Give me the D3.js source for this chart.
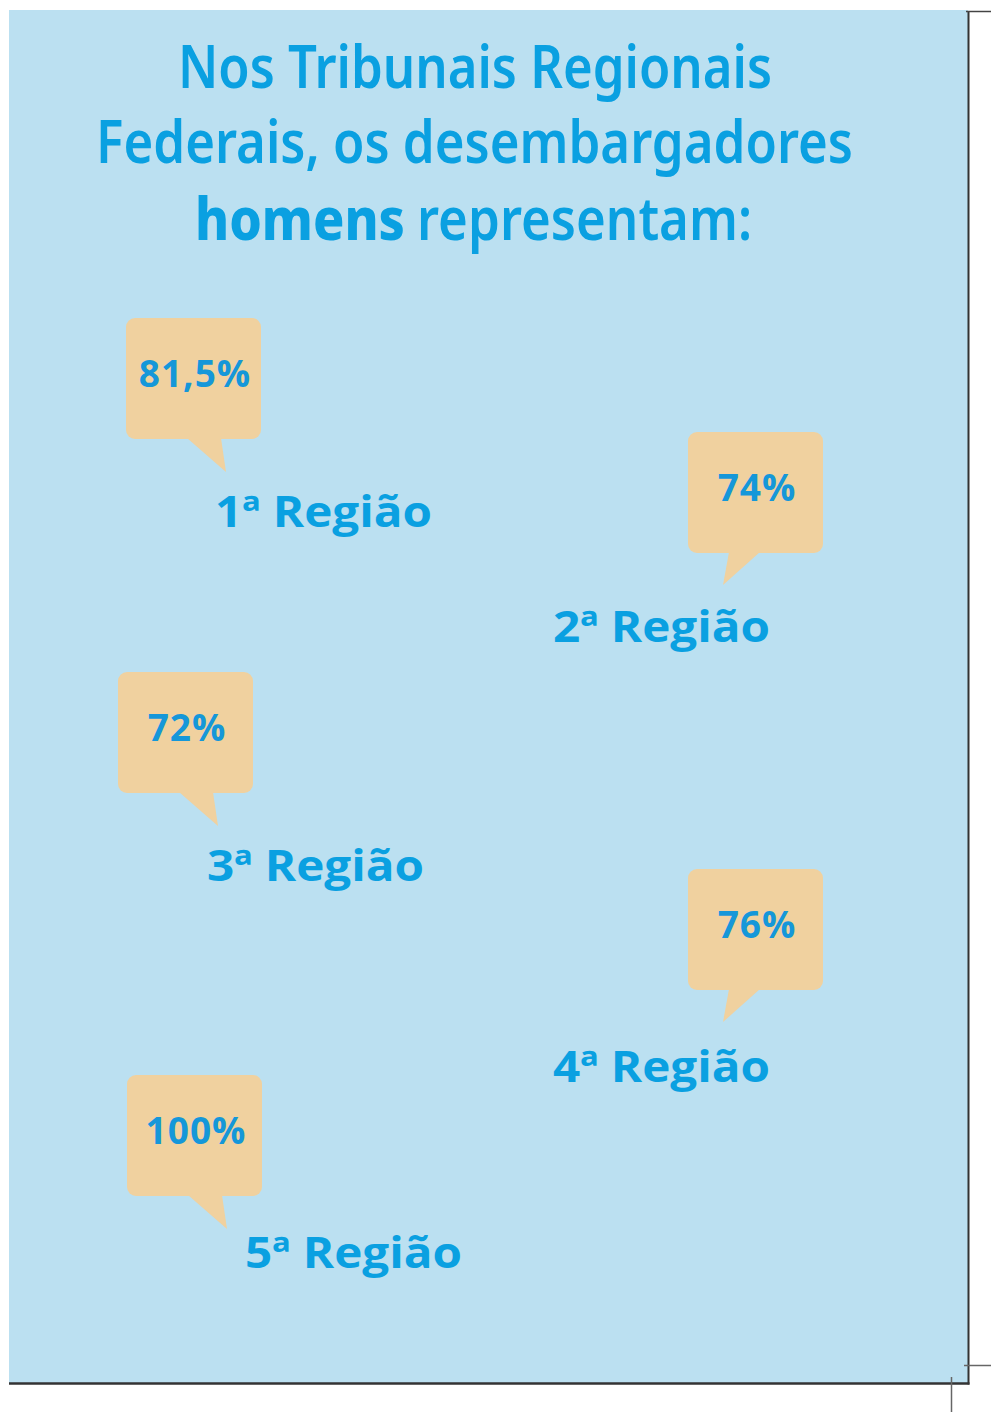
<!DOCTYPE html>
<html>
<head>
<meta charset="utf-8">
<script src="https://cdn.jsdelivr.net/npm/d3@7"></script>
<style>
  body { margin: 0; background: #fff; }
  svg { display: block; }
</style>
</head>
<body>
<svg width="991" height="1412"></svg>
<script>
// data
var regions = ["1ª Região", "2ª Região", "3ª Região", "4ª Região", "5ª Região"];
var values = [81.5, 74, 72, 76, 100];
var titleLines = ["Nos Tribunais Regionais", "Federais, os desembargadores"];
var titleBold = "homens";
var titleRest = "representam:";

// layout (bubble top-left, label start + baseline)
var slots = [
  {bx: 126, by: 318, side: "left",  lx: 215, ly: 527},
  {bx: 688, by: 432, side: "right", lx: 553, ly: 642},
  {bx: 118, by: 672, side: "left",  lx: 207, ly: 881},
  {bx: 688, by: 869, side: "right", lx: 553, ly: 1082},
  {bx: 127, by: 1075, side: "left", lx: 245, ly: 1268}
];

var svg = d3.select("svg"),
    width = +svg.attr("width"),
    height = +svg.attr("height");

var blue = "#0aa0e1", numBlue = "#1597d9", peach = "#f0d19f";
var bw = 135, bh = 121;

var pt = d3.formatLocale({decimal: ",", thousands: ".", grouping: [3], currency: ["", ""]});
var fmt = function(v) { return (v % 1 ? pt.format(".1f")(v) : v) + "%"; };

var slotOf = d3.scaleOrdinal().domain(regions).range(slots);

// background panel + frame
svg.append("rect").attr("x", 9).attr("y", 10).attr("width", 959).attr("height", 1373).style("fill", "#bbe0f1");
svg.append("line").attr("x1", 968.5).attr("y1", 11).attr("x2", 968.5).attr("y2", 1384.5).style("stroke", "#333").style("stroke-width", 2);
svg.append("line").attr("x1", 9).attr("y1", 1383.5).attr("x2", 969.5).attr("y2", 1383.5).style("stroke", "#333").style("stroke-width", 2.5);
// crop marks
svg.append("line").attr("x1", 966).attr("y1", 11.5).attr("x2", 991).attr("y2", 11.5).style("stroke", "#444").style("stroke-width", 1.5);
svg.append("line").attr("x1", 964).attr("y1", 1365.5).attr("x2", 991).attr("y2", 1365.5).style("stroke", "#666").style("stroke-width", 1.5);
svg.append("line").attr("x1", 951.5).attr("y1", 1377).attr("x2", 951.5).attr("y2", 1412).style("stroke", "#666").style("stroke-width", 1.5);

// title
var titleFont = "'Noto Sans', sans-serif";
svg.append("text").attr("x", 178).attr("y", 88).text(titleLines[0])
  .attr("textLength", 594).attr("lengthAdjust", "spacingAndGlyphs")
  .style("font-family", titleFont).style("font-size", "59px").style("font-weight", 600).style("fill", blue);
svg.append("text").attr("x", 96).attr("y", 163).text(titleLines[1])
  .attr("textLength", 757).attr("lengthAdjust", "spacingAndGlyphs")
  .style("font-family", titleFont).style("font-size", "59px").style("font-weight", 600).style("fill", blue);
svg.append("text").attr("x", 195).attr("y", 240).text(titleBold)
  .attr("textLength", 210).attr("lengthAdjust", "spacingAndGlyphs")
  .style("font-family", titleFont).style("font-size", "59px").style("font-weight", 800).style("fill", blue);
svg.append("text").attr("x", 417).attr("y", 240).text(titleRest)
  .attr("textLength", 335).attr("lengthAdjust", "spacingAndGlyphs")
  .style("font-family", titleFont).style("font-size", "59px").style("font-weight", 600).style("fill", blue);

// speech bubbles
var items = regions.map(function(r, i) { return {region: r, value: values[i], s: slotOf(r)}; });

var g = svg.selectAll(".item").data(items).enter().append("g").attr("class", "item");

g.append("rect")
  .attr("x", function(d) { return d.s.bx; })
  .attr("y", function(d) { return d.s.by; })
  .attr("width", bw).attr("height", bh)
  .attr("rx", 9).attr("ry", 9)
  .style("fill", peach);

g.append("path")
  .attr("d", function(d) {
    var x = d.s.bx, y = d.s.by + bh - 1;
    if (d.s.side == "left")
      return "M" + (x + 61) + "," + y + "L" + (x + 95) + "," + y + "L" + (x + 100) + "," + (y + 34) + "Z";
    return "M" + (x + 41) + "," + y + "L" + (x + 72) + "," + y + "L" + (x + 35) + "," + (y + 33) + "Z";
  })
  .style("fill", peach);

g.append("text")
  .attr("x", function(d) { return d.s.bx + bw / 2 + 1.5; })
  .attr("y", function(d) { return d.s.by + 69; })
  .attr("text-anchor", "middle")
  .text(function(d) { return fmt(d.value); })
  .style("font-family", "'Open Sans', sans-serif").style("font-size", "37px").style("font-weight", 700)
  .style("letter-spacing", "1px")
  .style("fill", numBlue);

g.append("text")
  .attr("x", function(d) { return d.s.lx; })
  .attr("y", function(d) { return d.s.ly; })
  .attr("textLength", 217).attr("lengthAdjust", "spacingAndGlyphs")
  .text(function(d) { return d.region; })
  .style("font-family", "'Open Sans', sans-serif").style("font-size", "43px").style("font-weight", 700)
  .style("fill", blue);
</script>
</body>
</html>
